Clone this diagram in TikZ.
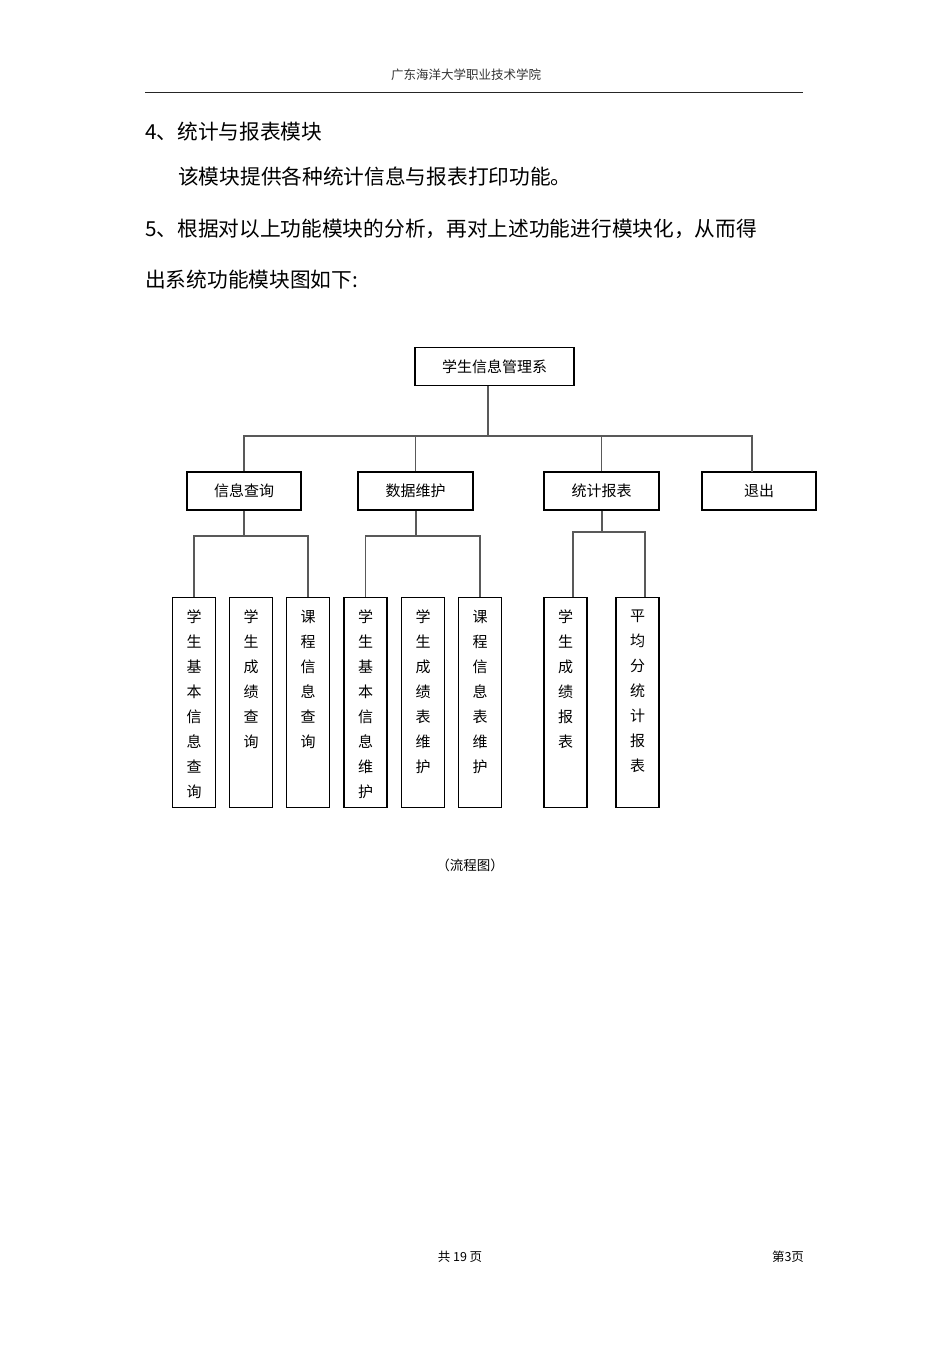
\documentclass[tikz,border=0pt]{standalone}
\usepackage{fontspec}
\setmainfont{Liberation Sans}
\newfontfamily\cjk{Noto Sans CJK SC}
\usetikzlibrary{positioning}

\begin{document}
\begin{tikzpicture}[x=1pt,y=-1pt,
    box/.style={draw,line width=1.2pt,minimum height=38pt,inner sep=0pt,font=\cjk\fontsize{15}{18}\selectfont},
    leaf/.style={draw,line width=1.2pt,minimum width=43pt,minimum height=210pt,anchor=north,inner sep=0pt},
    vtext/.style={align=center,inner sep=0pt,font=\cjk\fontsize{15}{25}\selectfont},
    link/.style={draw=black!65,line width=1.1pt},
    body/.style={anchor=west,inner sep=0pt,font=\cjk\fontsize{20.7}{24}\selectfont},
    small/.style={inner sep=0pt,font=\cjk\fontsize{12.5}{15}\selectfont}]
    \useasboundingbox[fill=white] (0,0) rectangle (950,1345);

    % page head and text
    \node[small,text=black!80] (head) at (466,75) {广东海洋大学职业技术学院};
    \coordinate (rulel) at (145,92);
    \coordinate (ruler) at (803,92);
    \draw[line width=1pt,black!85] (rulel) -- (ruler);
    \node[body] (t4) at (145,132) {4、统计与报表模块};
    \node[body] (t4a) at (178,177) {该模块提供各种统计信息与报表打印功能。};
    \node[body] (t5) at (145,229) {5、根据对以上功能模块的分析，再对上述功能进行模块化，从而得};
    \node[body] (t5a) at (145,280) {出系统功能模块图如下:};

    % top levels
    \node[box,minimum width=159pt] (root) at (494.5,366.5) {学生信息管理系};
    \node[box,minimum width=114pt] (query) at (244,491) {信息查询};
    \node[box,minimum width=115pt] (maint) at (415.5,491) {数据维护};
    \node[box,minimum width=115pt] (stat) at (601.5,491) {统计报表};
    \node[box,minimum width=114pt] (quit) at (759,491) {退出};

    % leaves
    \node[leaf] (q1) at (194,597) {};
    \node[leaf] (q2) at (251,597) {};
    \node[leaf] (q3) at (308,597) {};
    \node[leaf] (m1) at (365.5,597) {};
    \node[leaf] (m2) at (423,597) {};
    \node[leaf] (m3) at (480,597) {};
    \node[leaf] (s1) at (565.5,597) {};
    \node[leaf] (s2) at (637.5,597) {};

    \node[vtext,below=13pt of q1.north] {学\\生\\基\\本\\信\\息\\查\\询};
    \node[vtext,below=13pt of q2.north] {学\\生\\成\\绩\\查\\询};
    \node[vtext,below=13pt of q3.north] {课\\程\\信\\息\\查\\询};
    \node[vtext,below=13pt of m1.north] {学\\生\\基\\本\\信\\息\\维\\护};
    \node[vtext,below=13pt of m2.north] {学\\生\\成\\绩\\表\\维\\护};
    \node[vtext,below=13pt of m3.north] {课\\程\\信\\息\\表\\维\\护};
    \node[vtext,below=13pt of s1.north] {学\\生\\成\\绩\\报\\表};
    \node[vtext,below=13pt of s2.north] {平\\均\\分\\统\\计\\报\\表};

    % connectors
    \coordinate (bus) at (488,436);
    \coordinate (quitin) at (752,472);
    \draw[link] (root.south -| bus) -- (bus);
    \draw[link] (query.north) |- (quitin |- bus) -- (quitin);
    \draw[link] (maint.north) -- (maint.north |- bus);
    \draw[link] (stat.north) -- (stat.north |- bus);

    \coordinate (qbar) at (244,536);
    \draw[link] (query.south) -- (qbar);
    \draw[link] (q1.north) |- (qbar) -| (q3.north);
    \coordinate (mbar) at (416,536);
    \draw[link] (maint.south -| mbar) -- (mbar);
    \draw[link] (m1.north) |- (mbar) -| (m3.north);
    \coordinate (sbar) at (602,532);
    \coordinate (s1in) at (573,597);
    \coordinate (s2in) at (645,597);
    \draw[link] (stat.south -| sbar) -- (sbar);
    \draw[link] (s1in) |- (sbar) -| (s2in);

    \node[small,font=\cjk\fontsize{13.5}{15}\selectfont] (cap) at (470,865) {（流程图）};

    % foot
    \node[small] (total) at (460,1257) {共 19 页};
    \node[small] (page) at (788,1257) {第3页};
\end{tikzpicture}
\end{document}
